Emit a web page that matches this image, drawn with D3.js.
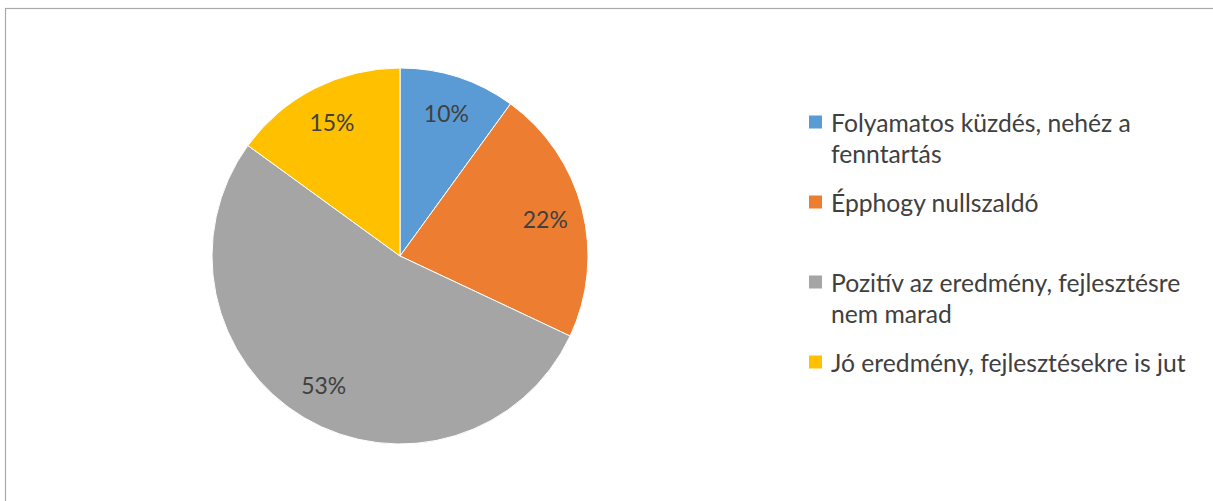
<!DOCTYPE html>
<html>
<head>
<meta charset="utf-8">
<script src="https://cdn.jsdelivr.net/npm/d3@7"></script>
<style>
  html, body { margin: 0; padding: 0; background: #fff; overflow: hidden; }
  svg { display: block; }
</style>
</head>
<body>
<svg id="chart" width="1213" height="501"></svg>
<script>
// Pie chart data
const categories = [
  "Folyamatos küzdés, nehéz a fenntartás",
  "Épphogy nullszaldó",
  "Pozitív az eredmény, fejlesztésre nem marad",
  "Jó eredmény, fejlesztésekre is jut"
];
const legendLines = [
  ["Folyamatos küzdés, nehéz a", "fenntartás"],
  ["Épphogy nullszaldó"],
  ["Pozitív az eredmény, fejlesztésre", "nem marad"],
  ["Jó eredmény, fejlesztésekre is jut"]
];
const values = [10, 22, 53, 15];
const colors = ["#5B9BD5", "#ED7D31", "#A5A5A5", "#FFC000"];

const svg = d3.select("#chart");
const W = 1213, H = 501;
const FONT = "Lato, 'Open Sans', 'DejaVu Sans', sans-serif";
const TEXT = "#404040";

// Chart frame (open on right and bottom)
svg.append("rect")
  .attr("x", 5.5).attr("y", 8.5)
  .attr("width", 1400).attr("height", 700)
  .attr("fill", "#fff")
  .attr("stroke", "#a9a9a9")
  .attr("stroke-width", 1.2);

const cx = 400, cy = 256, R = 188;
const g = svg.append("g").attr("transform", `translate(${cx},${cy})`);

const pie = d3.pie().sort(null).value(d => d)(values);
const arc = d3.arc().innerRadius(0).outerRadius(R);
const labelArc = d3.arc().innerRadius(150).outerRadius(150);

g.selectAll("path.slice")
  .data(pie)
  .join("path")
  .attr("class", "slice")
  .attr("d", arc)
  .attr("fill", (d, i) => colors[i])
  .attr("stroke", "#fff")
  .attr("stroke-width", 1);

const total = d3.sum(values);
const fmt = d => Math.round(d / total * 100) + "%";

g.selectAll("text.lbl")
  .data(pie)
  .join("text")
  .attr("class", "lbl")
  .attr("x", d => labelArc.centroid(d)[0])
  .attr("y", d => labelArc.centroid(d)[1])
  .attr("text-anchor", "middle")
  .attr("dominant-baseline", "central")
  .attr("font-family", FONT)
  .attr("font-size", 24)
  .attr("fill", TEXT)
  .text(d => fmt(d.data));

// Legend
const legendX = 809, textX = 831, firstY = 122, entryGap = 80, lineGap = 31, sq = 13;
const legend = svg.append("g");
legendLines.forEach((lines, i) => {
  const y0 = firstY + i * entryGap;
  legend.append("rect")
    .attr("x", legendX).attr("y", y0 - sq / 2)
    .attr("width", sq).attr("height", sq)
    .attr("fill", colors[i]);
  lines.forEach((t, j) => {
    legend.append("text")
      .attr("class", "leg")
      .attr("x", textX).attr("y", y0 + j * lineGap)
      .attr("dominant-baseline", "central")
      .attr("font-family", FONT)
      .attr("font-size", 24)
      .attr("fill", TEXT)
      .text(t);
  });
});

// Size legend text so the first line spans its measured width
const first = legend.select("text.leg").node();
const w = first.getComputedTextLength();
const fs = 24 * 300 / w;
legend.selectAll("text.leg").attr("font-size", fs);
// Pie labels: "10%" spans ~45px
const lbl = g.select("text.lbl").node();
const lw = lbl.getComputedTextLength();
g.selectAll("text.lbl").attr("font-size", 24 * 45 / lw);
</script>
</body>
</html>
